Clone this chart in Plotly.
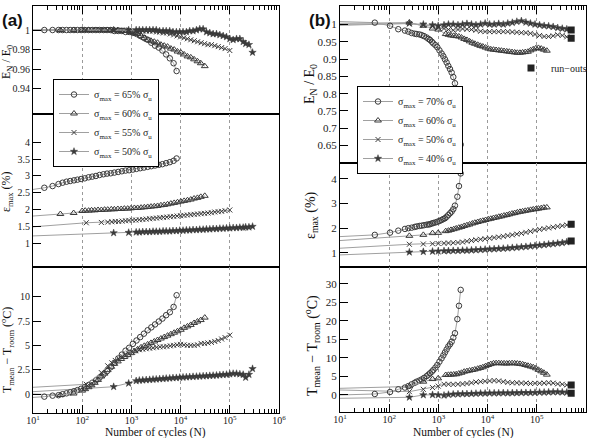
import plotly.graph_objects as go

# ---------------- data : panel (a) ----------------
a_N65 = [17, 25, 33, 40, 48, 57, 68, 80, 95, 113, 135, 160, 190, 226, 270, 320, 380, 450, 540, 640,
         760, 900, 1070, 1270, 1510, 1800, 2140, 2540, 3020, 3600, 4270, 5080, 6040, 7200, 8300]
a_E65 = [1.000, 1.000, 1.000, 1.000, 1.000, 1.000, 1.000, 1.000, 1.000, 1.000, 1.000, 1.000, 1.000,
         1.000, 1.000, 1.000, 1.000, 0.999, 0.999, 0.999, 0.998, 0.998, 0.997, 0.996, 0.994, 0.992,
         0.990, 0.987, 0.984, 0.982, 0.979, 0.975, 0.971, 0.966, 0.958]
a_eps65 = [2.65, 2.70, 2.76, 2.80, 2.83, 2.85, 2.87, 2.89, 2.91, 2.93, 2.96, 2.98, 3.00, 3.03, 3.05,
           3.07, 3.08, 3.10, 3.12, 3.14, 3.16, 3.17, 3.19, 3.21, 3.23, 3.25, 3.27, 3.29, 3.31, 3.33,
           3.35, 3.38, 3.41, 3.45, 3.52]
a_T65 = [-0.27, -0.17, -0.12, -0.02, 0.07, 0.17, 0.28, 0.40, 0.54, 0.70, 0.93, 1.15, 1.40, 1.70,
         2.00, 2.35, 2.75, 3.20, 3.65, 4.05, 4.45, 4.75, 5.15, 5.50, 5.85, 6.20, 6.55, 6.85, 7.15,
         7.45, 7.75, 8.10, 8.40, 8.95, 10.15]

a_N60 = [36, 67, 100, 115, 135, 155, 180, 210, 245, 285, 330, 390, 450, 530, 620, 720, 840, 980,
         1150, 1340, 1570, 1830, 2140, 2500, 2920, 3400, 3980, 4650, 5430, 6340, 7400, 8650, 10100,
         11800, 13800, 16100, 18800, 22000, 25700, 31000]
a_E60 = [1.000, 1.000, 1.000, 1.000, 1.000, 1.000, 1.000, 1.000, 1.000, 1.000, 1.000, 1.000, 1.000,
         1.000, 0.999, 0.999, 0.999, 0.998, 0.997, 0.996, 0.994, 0.992, 0.990, 0.989, 0.988, 0.987,
         0.985, 0.984, 0.983, 0.981, 0.980, 0.978, 0.977, 0.975, 0.973, 0.972, 0.970, 0.968, 0.966,
         0.963]
a_eps60 = [1.87, 1.90, 1.96, 1.97, 1.97, 1.98, 1.98, 1.99, 1.99, 2.00, 2.00, 2.01, 2.01, 2.02, 2.02,
           2.03, 2.03, 2.04, 2.05, 2.05, 2.06, 2.07, 2.08, 2.09, 2.10, 2.11, 2.13, 2.14, 2.16, 2.18,
           2.20, 2.22, 2.24, 2.26, 2.28, 2.30, 2.33, 2.35, 2.38, 2.41]
a_T60 = [-0.10, 0.05, 0.35, 0.50, 0.70, 0.90, 1.15, 1.45, 1.80, 2.10, 2.45, 2.80, 3.10, 3.35, 3.60,
         3.80, 4.00, 4.20, 4.40, 4.60, 4.80, 4.95, 5.10, 5.25, 5.40, 5.55, 5.70, 5.85, 6.00, 6.15,
         6.30, 6.45, 6.60, 6.80, 6.95, 7.10, 7.30, 7.45, 7.60, 7.85]

a_N55 = [121, 245, 330, 400, 470, 550, 650, 760, 890, 1050, 1230, 1450, 1700, 2000, 2350, 2760,
         3240, 3800, 4470, 5250, 6160, 7230, 8490, 9970, 11700, 13700, 16100, 18900, 22200, 26100,
         30600, 35900, 42200, 49500, 58100, 68200, 80100, 100000]
a_E55 = [1.000, 1.000, 1.000, 1.000, 1.000, 1.000, 1.000, 1.000, 1.000, 0.999, 0.999, 0.999, 0.999,
         0.999, 0.999, 0.999, 0.998, 0.998, 0.997, 0.997, 0.996, 0.995, 0.994, 0.993, 0.992, 0.991,
         0.990, 0.989, 0.988, 0.987, 0.986, 0.985, 0.985, 0.984, 0.983, 0.982, 0.981, 0.979]
a_eps55 = [1.61, 1.62, 1.63, 1.64, 1.65, 1.65, 1.66, 1.67, 1.68, 1.69, 1.69, 1.70, 1.71, 1.72, 1.73,
           1.74, 1.75, 1.76, 1.77, 1.78, 1.79, 1.80, 1.81, 1.82, 1.83, 1.84, 1.85, 1.86, 1.87, 1.88,
           1.89, 1.90, 1.91, 1.93, 1.94, 1.95, 1.97, 1.99]
a_T55 = [1.00, 2.20, 2.90, 3.20, 3.45, 3.65, 3.85, 4.00, 4.15, 4.30, 4.45, 4.55, 4.60, 4.65, 4.70,
         4.75, 4.80, 4.85, 4.85, 4.90, 4.95, 5.00, 5.05, 5.10, 5.05, 5.00, 5.00, 5.00, 5.05, 5.20,
         5.20, 5.25, 5.30, 5.40, 5.50, 5.65, 5.80, 6.05]

a_N50 = [436, 880, 1250, 1450, 1700, 2000, 2350, 2750, 3200, 3750, 4400, 5100, 6000, 7000, 8200,
         9600, 11200, 13100, 15300, 17900, 21000, 24500, 28700, 33500, 39200, 45800, 53600, 62700,
         73300, 85700, 100000, 117000, 137000, 160000, 187000, 210000, 245000, 290000]
a_E50 = [1.000, 1.000, 1.000, 1.000, 1.000, 1.000, 1.000, 1.000, 1.000, 0.999, 0.999, 0.999, 0.999,
         0.998, 0.998, 0.998, 0.998, 0.998, 0.999, 0.999, 1.000, 1.001, 1.001, 0.998, 0.997, 0.996,
         0.996, 0.995, 0.994, 0.993, 0.991, 0.990, 0.991, 0.991, 0.988, 0.986, 0.985, 0.977]
a_eps50 = [1.31, 1.32, 1.33, 1.33, 1.34, 1.34, 1.34, 1.35, 1.35, 1.35, 1.36, 1.36, 1.36, 1.37, 1.37,
           1.38, 1.38, 1.39, 1.39, 1.40, 1.40, 1.41, 1.41, 1.42, 1.42, 1.43, 1.43, 1.44, 1.44, 1.45,
           1.45, 1.46, 1.46, 1.47, 1.47, 1.48, 1.48, 1.50]
a_T50 = [0.75, 1.10, 1.35, 1.40, 1.42, 1.45, 1.47, 1.50, 1.52, 1.55, 1.57, 1.60, 1.62, 1.65, 1.67,
         1.70, 1.72, 1.74, 1.76, 1.78, 1.80, 1.82, 1.84, 1.86, 1.88, 1.90, 1.92, 1.95, 1.98, 2.00,
         2.05, 2.10, 2.10, 2.05, 2.00, 1.70, 2.00, 2.60]

# fitted-curve start values at N = 10 (order 65, 60, 55, 50 %)
a_fitE0 = [1.000, 1.000, 1.000, 1.000]
a_fitEps0 = [2.60, 1.81, 1.49, 1.22]
a_fitT0 = [-0.35, 0.00, 0.69, 0.24]

# ---------------- data : panel (b) ----------------
b_N70 = [51, 104, 153, 209, 245, 286, 330, 362, 410, 457, 510, 577, 630, 675, 735, 789, 870, 951,
         1050, 1160, 1260, 1360, 1470, 1590, 1720, 1860, 2010, 2170, 2430, 2620, 2840]
b_E70 = [1.005, 0.996, 0.986, 0.982, 0.979, 0.975, 0.973, 0.972, 0.971, 0.969, 0.966, 0.962, 0.958,
         0.955, 0.950, 0.945, 0.940, 0.934, 0.925, 0.916, 0.908, 0.899, 0.890, 0.880, 0.871, 0.861,
         0.848, 0.830, 0.779, 0.719, 0.653]
b_eps70 = [1.73, 1.82, 1.90, 1.97, 2.00, 2.02, 2.05, 2.07, 2.09, 2.10, 2.12, 2.14, 2.15, 2.16, 2.19,
           2.21, 2.23, 2.26, 2.29, 2.33, 2.37, 2.40, 2.46, 2.53, 2.60, 2.67, 2.77, 2.91, 3.27, 3.70,
           4.21]
b_T70 = [0.27, 0.81, 1.53, 2.00, 2.40, 2.88, 3.30, 3.60, 3.90, 4.20, 4.60, 5.10, 5.50, 5.86, 6.30,
         6.76, 7.40, 8.10, 9.00, 9.90, 10.70, 11.50, 12.30, 13.10, 13.70, 14.40, 15.50, 16.70,
         20.50, 24.10, 28.40]

b_N60 = [257, 494, 760, 990, 1410, 1600, 1800, 2050, 2300, 2600, 2950, 3350, 3800, 4300, 4900, 5500,
         6300, 7100, 8000, 9100, 10300, 11600, 13200, 14900, 16900, 19100, 21600, 24500, 27700,
         31400, 35500, 40200, 45500, 51500, 58300, 66000, 74700, 84600, 95700, 108000, 123000,
         139000, 160000]
b_E60 = [1.005, 0.996, 0.988, 0.985, 0.972, 0.970, 0.968, 0.967, 0.966, 0.965, 0.962, 0.958, 0.955,
         0.951, 0.947, 0.944, 0.941, 0.938, 0.936, 0.933, 0.930, 0.928, 0.927, 0.926, 0.925, 0.924,
         0.923, 0.922, 0.921, 0.920, 0.919, 0.918, 0.918, 0.919, 0.920, 0.921, 0.925, 0.928, 0.931,
         0.932, 0.930, 0.927, 0.924]
b_eps60 = [1.69, 1.73, 1.80, 1.81, 1.88, 1.90, 1.93, 1.96, 1.99, 2.02, 2.05, 2.09, 2.12, 2.15, 2.19,
           2.22, 2.25, 2.28, 2.30, 2.33, 2.36, 2.38, 2.41, 2.43, 2.46, 2.48, 2.51, 2.53, 2.56, 2.59,
           2.61, 2.64, 2.66, 2.68, 2.70, 2.72, 2.74, 2.76, 2.77, 2.79, 2.81, 2.83, 2.84]
b_T60 = [2.30, 3.60, 4.30, 4.50, 5.40, 5.45, 5.50, 5.55, 5.60, 5.80, 6.00, 6.30, 6.45, 6.60, 6.75,
         6.90, 7.10, 7.30, 7.50, 7.80, 8.10, 8.35, 8.55, 8.60, 8.60, 8.55, 8.55, 8.50, 8.55, 8.60,
         8.55, 8.50, 8.40, 8.30, 8.10, 7.90, 7.70, 7.50, 7.20, 6.80, 6.40, 6.00, 5.50]

b_N50 = [257, 494, 760, 990, 1300, 1600, 2000, 2500, 3100, 3800, 4700, 5800, 7200, 8900, 11000,
         13600, 16800, 20800, 25700, 31800, 39300, 48600, 60100, 74300, 91900, 114000, 141000,
         174000, 215000, 266000, 329000, 407000]
b_E50 = [1.002, 0.998, 0.995, 0.990, 0.988, 0.985, 0.983, 0.985, 0.987, 0.986, 0.985, 0.983, 0.980,
         0.979, 0.979, 0.979, 0.979, 0.979, 0.979, 0.978, 0.977, 0.976, 0.976, 0.974, 0.971, 0.968,
         0.965, 0.965, 0.967, 0.970, 0.968, 0.964]
b_eps50 = [1.35, 1.36, 1.37, 1.38, 1.39, 1.40, 1.41, 1.42, 1.44, 1.47, 1.50, 1.53, 1.55, 1.57, 1.59,
           1.62, 1.64, 1.67, 1.70, 1.73, 1.76, 1.79, 1.83, 1.87, 1.91, 1.95, 1.98, 2.01, 2.04, 2.07,
           2.10, 2.13]
b_T50 = [0.90, 1.53, 2.00, 2.40, 2.90, 2.90, 2.85, 2.90, 3.00, 3.10, 3.30, 3.50, 3.60, 3.70, 3.80,
         3.90, 3.80, 3.60, 3.40, 3.30, 3.30, 3.20, 3.20, 3.10, 3.15, 3.15, 3.20, 3.30, 3.20, 3.00,
         2.90, 2.70]

b_N40 = [257, 494, 760, 990, 1300, 1600, 2000, 2500, 3100, 3800, 4700, 5800, 7200, 8900, 11000,
         13600, 16800, 20800, 25700, 31800, 39300, 48600, 60100, 74300, 91900, 114000, 141000,
         174000, 215000, 266000, 329000, 407000]
b_E40 = [1.003, 1.000, 0.998, 0.996, 0.998, 1.000, 1.000, 0.998, 1.000, 1.002, 1.000, 0.998, 1.000,
         1.003, 1.000, 1.000, 1.002, 1.000, 1.003, 1.005, 1.008, 1.010, 1.006, 1.003, 1.000, 0.998,
         0.996, 0.995, 0.993, 0.990, 0.988, 0.986]
b_eps40 = [1.03, 1.05, 1.06, 1.07, 1.08, 1.08, 1.09, 1.09, 1.10, 1.10, 1.11, 1.12, 1.13, 1.14, 1.15,
           1.16, 1.17, 1.18, 1.19, 1.21, 1.22, 1.24, 1.25, 1.27, 1.29, 1.31, 1.33, 1.35, 1.37, 1.39,
           1.41, 1.44]
b_T40 = [-0.63, 0.00, 0.05, 0.00, -0.10, 0.10, 0.20, 0.25, 0.30, 0.30, 0.35, 0.40, 0.45, 0.45, 0.50,
         0.50, 0.50, 0.55, 0.50, 0.55, 0.55, 0.60, 0.60, 0.60, 0.65, 0.70, 0.70, 0.75, 0.80, 0.80,
         0.75, 0.70]

b_fitE0 = [1.008, 1.003, 1.000, 0.997]
b_fitEps0 = [1.66, 1.50, 1.19, 0.92]
b_fitT0 = [0.00, 1.80, 1.35, -0.90]

# run-outs (50 % and 40 % specimens)
b_run_N = [500000, 500000]
b_run_E = [0.960, 0.984]
b_run_eps = [2.16, 1.48]
b_run_T = [2.70, 0.45]

a_names = ["σ<sub>max</sub> = 65% σ<sub>u</sub>", "σ<sub>max</sub> = 60% σ<sub>u</sub>",
           "σ<sub>max</sub> = 55% σ<sub>u</sub>", "σ<sub>max</sub> = 50% σ<sub>u</sub>"]
b_names = ["σ<sub>max</sub> = 70% σ<sub>u</sub>", "σ<sub>max</sub> = 60% σ<sub>u</sub>",
           "σ<sub>max</sub> = 50% σ<sub>u</sub>", "σ<sub>max</sub> = 40% σ<sub>u</sub>"]

x_major = [10, 100, 1000, 10000, 100000, 1000000]
x_major_text = ["10<sup>1</sup>", "10<sup>2</sup>", "10<sup>3</sup>", "10<sup>4</sup>",
                "10<sup>5</sup>", "10<sup>6</sup>"]
x_minor = [m * 10 ** k for k in range(1, 6) for m in range(2, 10)]

a_E_ticks = [0.94, 0.96, 0.98, 1.0]
a_E_text = ["0.94", "0.96", "0.98", "1"]
a_eps_ticks = [1, 1.5, 2, 2.5, 3, 3.5, 4]
a_eps_text = ["1", "1.5", "2", "2.5", "3", "3.5", "4"]
a_T_ticks = [0, 2.5, 5, 7.5, 10]
a_T_text = ["0", "2.5", "5", "7.5", "10"]
b_E_ticks = [0.65, 0.7, 0.75, 0.8, 0.85, 0.9, 0.95, 1.0]
b_E_text = ["0.65", "0.7", "0.75", "0.8", "0.85", "0.9", "0.95", "1"]
b_eps_ticks = [1, 2, 3, 4]
b_eps_text = ["1", "2", "3", "4"]
b_T_ticks = [0, 5, 10, 15, 20, 25, 30]
b_T_text = ["0", "5", "10", "15", "20", "25", "30"]

# ---------------- styling / layout ----------------
W, H = 592, 438
SERIF = "Liberation Serif"
LINE_C = "#a0a0a0"
MARK_C = "#3a3a3a"


def fx(p):
    return p / W


def fy(p):
    return 1 - p / H


styles = [
    dict(symbol="circle-open", size=5.5, color=MARK_C, line=dict(width=1, color=MARK_C)),
    dict(symbol="triangle-up-open", size=6, color=MARK_C, line=dict(width=1, color=MARK_C)),
    dict(symbol="x-thin-open", size=5, color=MARK_C, line=dict(width=1, color=MARK_C)),
    dict(symbol="star", size=5.5, color=MARK_C, line=dict(width=0.5, color=MARK_C)),
]

fig = go.Figure()

panelA = [(a_N65, a_E65, a_eps65, a_T65), (a_N60, a_E60, a_eps60, a_T60),
          (a_N55, a_E55, a_eps55, a_T55), (a_N50, a_E50, a_eps50, a_T50)]
panelB = [(b_N70, b_E70, b_eps70, b_T70), (b_N60, b_E60, b_eps60, b_T60),
          (b_N50, b_E50, b_eps50, b_T50), (b_N40, b_E40, b_eps40, b_T40)]
fitsA = [a_fitE0, a_fitEps0, a_fitT0]
fitsB = [b_fitE0, b_fitEps0, b_fitT0]


def add_panel(series, fits, names, axes, legend_name):
    # fitted curves first (beneath markers)
    for k, (xa, ya) in enumerate(axes):
        for i, s in enumerate(series):
            N, vals = s[0], s[k + 1]
            fig.add_trace(go.Scatter(x=[10, N[0]], y=[fits[k][i], vals[0]], mode="lines",
                                     line=dict(color=LINE_C, width=1), xaxis=xa, yaxis=ya,
                                     showlegend=False, hoverinfo="skip"))
    for k, (xa, ya) in enumerate(axes):
        for i, s in enumerate(series):
            N, vals = s[0], s[k + 1]
            fig.add_trace(go.Scatter(x=N, y=vals, mode="lines+markers", name=names[i],
                                     line=dict(color=LINE_C, width=1), marker=styles[i],
                                     xaxis=xa, yaxis=ya, showlegend=(k == 0), legend=legend_name))


add_panel(panelA, fitsA, a_names, [("x", "y"), ("x2", "y2"), ("x3", "y3")], "legend")
add_panel(panelB, fitsB, b_names, [("x4", "y4"), ("x5", "y5"), ("x6", "y6")], "legend2")

for k, (xa, ya, vals) in enumerate([("x4", "y4", b_run_E), ("x5", "y5", b_run_eps), ("x6", "y6", b_run_T)]):
    fig.add_trace(go.Scatter(x=b_run_N, y=vals, mode="markers", name="run−outs",
                             marker=dict(symbol="square", size=7, color="#222222"),
                             xaxis=xa, yaxis=ya, showlegend=(k == 0), legend="legend3"))

tickfont = dict(family=SERIF, size=10, color="#222")
minor = dict(tickmode="array", tickvals=x_minor, ticks="inside", ticklen=4, tickcolor="black",
             showgrid=False)


def xaxis(dom, anchor, pos):
    d = dict(type="log", range=[1, 6], domain=dom, anchor=anchor, showline=True, mirror=True,
             linecolor="black", linewidth=1, showgrid=True, gridcolor="#9a9a9a", griddash="dot",
             gridwidth=1, tickmode="array", tickvals=x_major, ticktext=x_major_text,
             zeroline=False, tickfont=tickfont, automargin=False)
    if pos == "top":
        d.update(side="top", ticks="inside", ticklen=8, tickcolor="black", showticklabels=False,
                 minor=minor)
    elif pos == "mid":
        d.update(ticks="", showticklabels=False)
    else:
        d.update(side="bottom", ticks="inside", ticklen=8, tickcolor="black", minor=minor,
                 ticklabelstandoff=-2)
    return d


def yaxis(dom, anchor, rng, tv, tt, fsize):
    return dict(domain=dom, anchor=anchor, range=rng, showline=True, mirror=True,
                linecolor="black", linewidth=1, ticks="inside", ticklen=8, tickcolor="black",
                tickmode="array", tickvals=tv, ticktext=tt, showgrid=False, zeroline=False,
                tickfont=dict(family=SERIF, size=fsize, color="#222"), automargin=False)


XA = [fx(33), fx(279)]
XB = [fx(340), fx(586)]
A1 = [fy(114), fy(6)]
A2 = [fy(267), fy(114)]
A3 = [fy(413), fy(267)]
B1 = [fy(163.3), fy(6)]
B2 = [fy(267.3), fy(163.3)]
B3 = [fy(412.3), fy(267.3)]

annotations = []


def ann(text, x, y, size, angle=0, bold=False, family=SERIF):
    annotations.append(dict(text=("<b>%s</b>" % text) if bold else text, x=fx(x), y=fy(y),
                            xref="paper", yref="paper", showarrow=False, textangle=angle,
                            xanchor="center", yanchor="middle",
                            font=dict(family=family, size=size, color="#111")))


ann("E<sub>N</sub> / E<sub>0</sub>", 7, 62, 12, -90)
ann("ε<sub>max</sub> (%)", 7, 192, 12, -90)
ann("T<sub>mean</sub> − T<sub>room</sub> (<sup>o</sup>C)", 7, 350, 12, -90)
ann("E<sub>N</sub> / E<sub>0</sub>", 310, 84, 14, -90)
ann("ε<sub>max</sub> (%)", 311, 215, 14, -90)
ann("T<sub>mean</sub> − T<sub>room</sub> (<sup>o</sup>C)", 312, 345, 14, -90)
ann("Number of cycles (N)", 156, 432.5, 11.5)
ann("Number of cycles (N)", 463, 432.5, 11.5)
ann("(a)", 12, 20, 17, bold=True, family="Liberation Sans")
ann("(b)", 320, 20, 17, bold=True, family="Liberation Sans")

legfont = dict(family=SERIF, size=10, color="#222")

fig.update_layout(
    width=W, height=H, margin=dict(l=0, r=0, t=0, b=0, autoexpand=False),
    paper_bgcolor="white", plot_bgcolor="white",
    xaxis=xaxis(XA, "y", "top"), xaxis2=xaxis(XA, "y2", "mid"), xaxis3=xaxis(XA, "y3", "bottom"),
    xaxis4=xaxis(XB, "y4", "top"), xaxis5=xaxis(XB, "y5", "mid"), xaxis6=xaxis(XB, "y6", "bottom"),
    yaxis=yaxis(A1, "x", [0.914, 1.0246], a_E_ticks, a_E_text, 10),
    yaxis2=yaxis(A2, "x2", [0.297, 4.84], a_eps_ticks, a_eps_text, 10),
    yaxis3=yaxis(A3, "x3", [-1.95, 13.05], a_T_ticks, a_T_text, 10),
    yaxis4=yaxis(B1, "x4", [0.599, 1.053], b_E_ticks, b_E_text, 11),
    yaxis5=yaxis(B2, "x5", [0.42, 4.62], b_eps_ticks, b_eps_text, 11),
    yaxis6=yaxis(B3, "x6", [-4.68, 34.5], b_T_ticks, b_T_text, 11),
    legend=dict(x=fx(53), y=fy(79), xanchor="left", yanchor="top", bgcolor="white",
                bordercolor="black", borderwidth=1, font=legfont, itemwidth=30, tracegroupgap=0),
    legend2=dict(x=fx(357), y=fy(86), xanchor="left", yanchor="top", bgcolor="white",
                 bordercolor="black", borderwidth=1, font=legfont, itemwidth=30, tracegroupgap=0),
    legend3=dict(x=1.0, y=fy(68), xanchor="right", yanchor="middle",
                 bgcolor="rgba(0,0,0,0)", borderwidth=0, font=dict(family=SERIF, size=10, color="#222"),
                 itemwidth=30),
    annotations=annotations,
    showlegend=True,
)

fig.write_html("out.html")
